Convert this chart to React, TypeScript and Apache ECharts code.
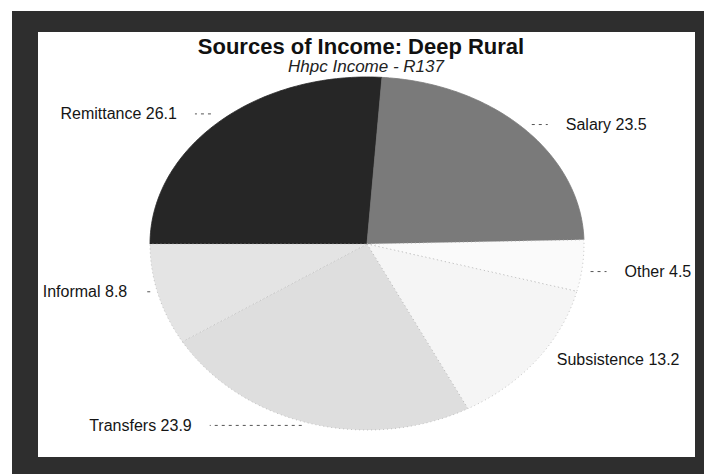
import React, { useEffect, useRef } from 'react';
import * as echarts from 'echarts';

// ---- data ----
const categories = ['Remittance', 'Salary', 'Other', 'Subsistence', 'Transfers', 'Informal'];
const values = [26.1, 23.5, 4.5, 13.2, 23.9, 8.8];
const titleText = 'Sources of Income: Deep Rural';
const subtitleText = 'Hhpc Income - R137';

// ---- styling / layout ----
const sliceColors = ['#262626', '#7a7a7a', '#fafafa', '#f5f5f5', '#dedede', '#e4e4e4'];
const labelLeader = [42, 42, 42, 20, 118, 31];
const labelDy = [-8, -4, 6, 0, 2, -3];
const CX = 367;
const CY = 244;
const RX = 217;
const RTOP = 167;
const RBOT = 186;
const START = 180;

const FONT = '"Liberation Sans", Arial, Helvetica, sans-serif';

function ellPt(deg: number): [number, number] {
  const t = (deg * Math.PI) / 180;
  const s = Math.sin(t);
  const r = s > 0 ? RTOP : RBOT;
  return [CX + RX * Math.cos(t), CY - r * s];
}

export default function App() {
  const ref = useRef<HTMLDivElement>(null);
  useEffect(() => {
    document.body.style.margin = '0';
    const chart = echarts.init(ref.current!, undefined, { renderer: 'svg' });
    const total = values.reduce((s, v) => s + v, 0);
    const cum: number[] = [];
    values.reduce((s, v, i) => {
      cum[i] = s;
      return s + v;
    }, 0);
    const data = values.map((v, i) => [i, v, cum[i]]);

    const renderItem = (params: any, api: any) => {
      const i = params.dataIndex;
      const v = api.value(1);
      const before = api.value(2);
      const a0 = START - (before / total) * 360;
      const a1 = START - ((before + v) / total) * 360;
      const pts: number[][] = [[CX, CY]];
      const n = Math.max(2, Math.ceil(Math.abs(a1 - a0)));
      for (let s = 0; s <= n; s++) pts.push(ellPt(a0 + ((a1 - a0) * s) / n));
      const mid = (a0 + a1) / 2;
      const anc = ellPt(mid);
      const dir = Math.cos((mid * Math.PI) / 180) >= 0 ? 1 : -1;
      const L = labelLeader[i];
      const ly = anc[1] + labelDy[i];
      const children: any[] = [
        {
          type: 'polygon',
          shape: { points: pts },
          style: { fill: sliceColors[i], stroke: i < 2 ? sliceColors[i] : '#b5b5b5', lineWidth: 0.8, lineDash: i < 2 ? null : [1, 3] },
        },
      ];
      if (L - 26 > 0) {
        children.push({
          type: 'line',
          shape: { x1: anc[0] + dir * 8, y1: ly, x2: anc[0] + dir * (L - 18), y2: ly },
          style: { stroke: '#555', lineWidth: 1, lineDash: [3, 4] },
        });
      }
      children.push({
        type: 'text',
        style: {
          text: categories[i] + ' ' + v.toFixed(1),
          x: anc[0] + dir * L,
          y: ly,
          font: '16px ' + FONT,
          fill: '#151515',
          align: dir > 0 ? 'left' : 'right',
          verticalAlign: 'middle',
          textAlign: dir > 0 ? 'left' : 'right',
          textVerticalAlign: 'middle',
        },
      });
      return { type: 'group', children };
    };

    chart.setOption({
      animation: false,
      backgroundColor: '#ffffff',
      graphic: [
        { type: 'rect', z: -10, shape: { x: 12, y: 11, width: 692, height: 463 }, style: { fill: '#2e2e2e' } },
        { type: 'rect', z: -9, shape: { x: 38, y: 32, width: 657, height: 425 }, style: { fill: '#ffffff' } },
      ],
      title: [
        {
          text: titleText,
          left: 356,
          top: 30,
          textAlign: 'center',
          textStyle: { fontFamily: FONT, fontWeight: 'bold', fontSize: 22, color: '#111' },
        },
        {
          text: subtitleText,
          left: 361,
          top: 53,
          textAlign: 'center',
          textStyle: { fontFamily: FONT, fontStyle: 'italic', fontWeight: 'normal', fontSize: 17, color: '#222' },
        },
      ],
      series: [
        {
          type: 'custom',
          coordinateSystem: 'none',
          renderItem,
          data,
        },
      ],
    });
    return () => chart.dispose();
  }, []);
  return <div ref={ref} style={{ position: 'fixed', left: 0, top: 0, width: 704, height: 474 }} />;
}
